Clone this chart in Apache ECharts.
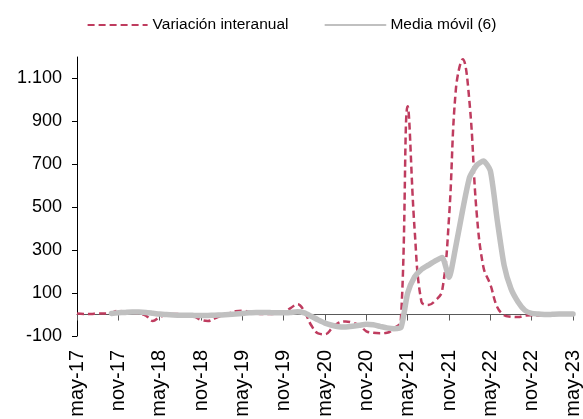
<!DOCTYPE html>
<html>
<head>
<meta charset="utf-8">
<script src="https://cdn.jsdelivr.net/npm/echarts@6/dist/echarts.min.js"></script>
<style>
html,body{margin:0;padding:0;background:#fff;}
#chart{width:583px;height:419px;}
</style>
</head>
<body>
<div id="chart"></div>
<script>
// Categories: monthly from may-17 to may-23
const monthNames = ['ene','feb','mar','abr','may','jun','jul','ago','sep','oct','nov','dic'];
const categories = [];
for (let k = 0; k < 73; k++) {
  const m = (4 + k) % 12;
  const y = 17 + Math.floor((4 + k) / 12);
  categories.push(monthNames[m] + '-' + y);
}

const seriesNames = ['Variación interanual', 'Media móvil (6)'];

const variacionInteranual = [
  5, 3, 3, 5, 5, 8, 18, 12, 8, 5,
  -5, -30, -12, 0, 3, 2, -3, -10, -25, -30,
  -18, -5, 5, 15, 18, 12, 5, 2, 2, 5,
  10, 30, 48, 15, -50, -88, -92, -65, -38, -32,
  -38, -50, -78, -85, -87, -85, -65, -30, 970, 400,
  60, 45, 65, 110, 450, 1050, 1190, 980, 480, 220,
  140, 35, -3, -10, -12, -5, -3, -5, -5, 6,
  5, 3, 5
];

const mediaMovil = [
  null, null, null, null, null, 5, 8, 10, 12, 12,
  10, 6, 2, 0, -2, -3, -3, -4, -5, -4,
  -3, -2, 0, 2, 5, 8, 10, 10, 9, 8,
  8, 10, 13, 8, -8, -25, -40, -50, -57, -58,
  -55, -50, -45, -48, -55, -62, -66, -62, 100, 175,
  210, 230, 250, 266, 174, 320, 490, 640, 695, 715,
  670, 440, 230, 120, 60, 20, 5, 2, 0, 1,
  2, 2, 2
];

const yTicks = [-100, 100, 300, 500, 700, 900, 1100];

const FONT = '"Liberation Sans", Arial, sans-serif';
const chart = echarts.init(document.getElementById('chart'), null, {renderer: 'canvas'});
chart.setOption({
  animation: false,
  backgroundColor: '#ffffff',
  textStyle: {fontFamily: FONT},
  legend: {
    top: 12,
    left: 'center',
    itemWidth: 60,
    itemHeight: 8,
    itemGap: 36,
    itemStyle: {opacity: 0},
    textStyle: {fontFamily: FONT, fontSize: 15.5, color: '#000'},
    data: seriesNames
  },
  grid: {left: 77, right: 10, top: 57, bottom: 83, containLabel: false, outerBoundsMode: 'none'},
  xAxis: {
    type: 'category',
    data: categories,
    boundaryGap: false,
    axisLine: {onZero: true, lineStyle: {color: '#595959', width: 1}},
    axisTick: {show: true, interval: 5, length: 6, lineStyle: {color: '#595959'}},
    axisLabel: {interval: 5, rotate: 90, margin: 14, fontSize: 20, color: '#000', fontFamily: FONT},
    splitLine: {show: false}
  },
  yAxis: {
    type: 'value',
    min: -100,
    max: 1200,
    axisLine: {show: true, onZero: false, lineStyle: {color: '#000', width: 1}},
    axisTick: {show: true, length: 5, lineStyle: {color: '#000'}, customValues: yTicks},
    axisLabel: {
      margin: 15, fontSize: 18, color: '#000', fontFamily: FONT,
      customValues: yTicks,
      formatter: v => String(v).replace(/\B(?=(\d{3})+(?!\d))/g, '.')
    },
    splitLine: {show: false}
  },
  series: [
    {
      name: seriesNames[0],
      type: 'line',
      data: variacionInteranual,
      smooth: 0.4,
      symbol: 'none',
      lineStyle: {color: '#BF3C5F', width: 2.5, type: [7, 4]},
      itemStyle: {color: '#BF3C5F'},
      z: 2
    },
    {
      name: seriesNames[1],
      type: 'line',
      data: mediaMovil,
      smooth: 0.2,
      symbol: 'none',
      connectNulls: false,
      lineStyle: {color: '#C0C0C0', width: 5.5, cap: 'round', join: 'round'},
      itemStyle: {color: '#C0C0C0'},
      z: 3
    }
  ]
});
</script>
</body>
</html>
